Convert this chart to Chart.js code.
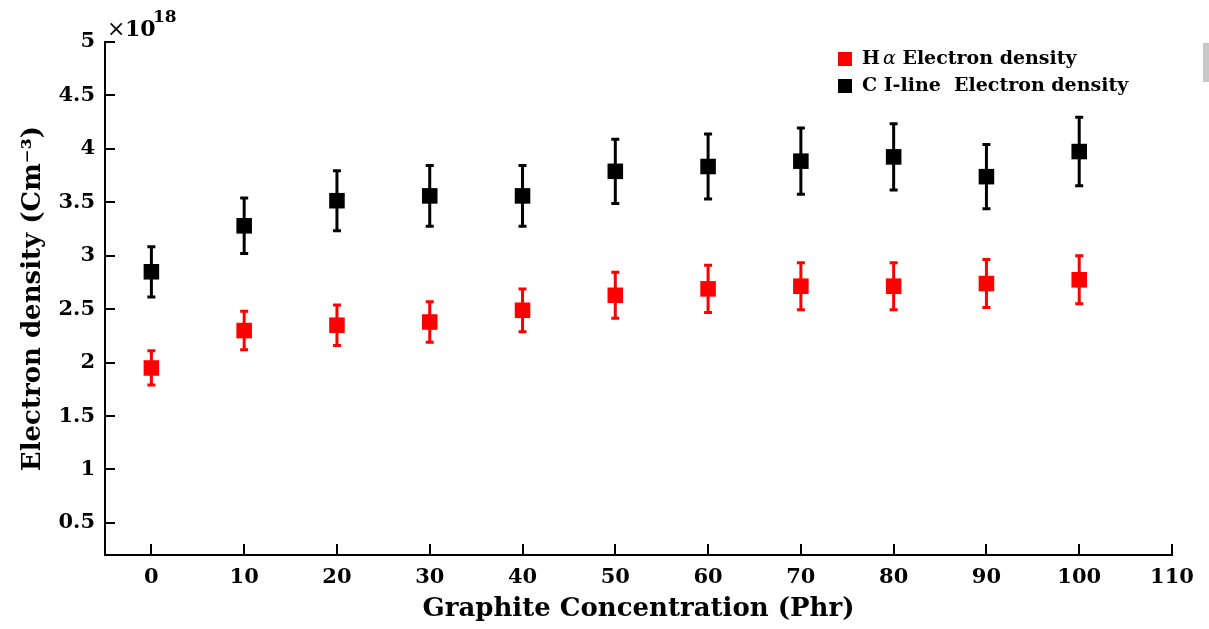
<!DOCTYPE html>
<html>
<head>
<meta charset="utf-8">
<script src="https://cdn.jsdelivr.net/npm/chart.js@4"></script>
<style>
  html, body { margin: 0; padding: 0; background: #fff; }
  #wrap { position: relative; width: 1209px; height: 629px; }
  #bar { position: absolute; left: 1203px; top: 43px; width: 6px; height: 39px; background: #c8c8c8; }
</style>
</head>
<body>
<div id="wrap">
  <canvas id="chart" width="1209" height="629"></canvas>
  <div id="bar"></div>
</div>
<script>
const concentration = [0, 10, 20, 30, 40, 50, 60, 70, 80, 90, 100];
const hAlpha = [1.95, 2.30, 2.35, 2.38, 2.49, 2.63, 2.69, 2.715, 2.715, 2.74, 2.775];
const hAlphaErr = [0.16, 0.18, 0.19, 0.19, 0.20, 0.215, 0.22, 0.22, 0.22, 0.225, 0.225];
const cLine = [2.85, 3.28, 3.515, 3.56, 3.56, 3.79, 3.835, 3.885, 3.925, 3.74, 3.975];
const cLineErr = [0.235, 0.26, 0.28, 0.285, 0.285, 0.30, 0.305, 0.31, 0.31, 0.30, 0.32];
const xTicks = [0, 10, 20, 30, 40, 50, 60, 70, 80, 90, 100, 110];
const yTicks = [0.5, 1, 1.5, 2, 2.5, 3, 3.5, 4, 4.5, 5];

const FONT = "'DejaVu Serif', serif";

const toPoints = (vals) => concentration.map((c, i) => ({ x: c, y: vals[i] }));

// error bars, inward tick marks, exponent and legend
const extras = {
  id: 'extras',
  beforeDatasetsDraw(chart) {
    const { ctx, scales: { x, y } } = chart;
    ctx.save();
    ctx.lineWidth = 3;
    chart.data.datasets.forEach((ds) => {
      ctx.strokeStyle = ds.backgroundColor;
      ds.data.forEach((p, i) => {
        const px = x.getPixelForValue(p.x);
        const top = y.getPixelForValue(p.y + ds.err[i]);
        const bot = y.getPixelForValue(p.y - ds.err[i]);
        ctx.beginPath();
        ctx.moveTo(px, top);
        ctx.lineTo(px, bot);
        ctx.moveTo(px - 4, top);
        ctx.lineTo(px + 4, top);
        ctx.moveTo(px - 4, bot);
        ctx.lineTo(px + 4, bot);
        ctx.stroke();
      });
    });
    ctx.restore();
  },
  afterDraw(chart) {
    const { ctx, chartArea: area, scales: { x, y } } = chart;
    ctx.save();
    ctx.strokeStyle = '#000';
    ctx.lineWidth = 2;
    ctx.beginPath();
    yTicks.forEach((v) => {
      const py = Math.round(y.getPixelForValue(v));
      ctx.moveTo(area.left, py);
      ctx.lineTo(area.left + 10, py);
    });
    xTicks.forEach((v) => {
      const px = Math.round(x.getPixelForValue(v));
      ctx.moveTo(px, area.bottom);
      ctx.lineTo(px, area.bottom - 11);
    });
    ctx.stroke();

    // x10^18
    ctx.fillStyle = '#000';
    ctx.textBaseline = 'alphabetic';
    ctx.font = "22px " + FONT;
    ctx.fillText('\u00d7', area.left + 2, 36);
    ctx.font = "bold 22px " + FONT;
    ctx.fillText('10', area.left + 20, 36);
    ctx.font = "bold 17px " + FONT;
    ctx.fillText('18', area.left + 48, 22);

    // legend
    const items = [
      { color: '#ff0000', label: ['H', '\u03b1', ' Electron density'] },
      { color: '#000000', label: ['C I-line  Electron density'] }
    ];
    items.forEach((it, i) => {
      const cy = 59 + i * 27;
      ctx.fillStyle = it.color;
      ctx.fillRect(838, cy - 7, 14, 14);
      ctx.fillStyle = '#000';
      ctx.textBaseline = 'middle';
      let tx = 862;
      it.label.forEach((part) => {
        ctx.font = (part === '\u03b1' ? "italic 19px " : "bold 19px ") + FONT;
        ctx.fillText(part, tx, cy);
        tx += ctx.measureText(part).width + (part === 'H' ? 3 : 0);
      });
    });
    ctx.restore();
  }
};

new Chart(document.getElementById('chart'), {
  type: 'scatter',
  data: {
    datasets: [{
      label: 'H\u03b1 Electron density',
      data: toPoints(hAlpha),
      err: hAlphaErr,
      backgroundColor: '#ff0000',
      borderColor: '#ff0000',
      borderWidth: 0,
      pointStyle: 'rect',
      pointRadius: 11,
      pointHoverRadius: 11
    }, {
      label: 'C I-line  Electron density',
      data: toPoints(cLine),
      err: cLineErr,
      backgroundColor: '#000000',
      borderColor: '#000000',
      borderWidth: 0,
      pointStyle: 'rect',
      pointRadius: 11,
      pointHoverRadius: 11
    }]
  },
  options: {
    responsive: false,
    animation: false,
    layout: { padding: { top: 42, right: 37, left: 0, bottom: 0 } },
    plugins: {
      legend: { display: false },
      tooltip: { enabled: false }
    },
    scales: {
      x: {
        type: 'linear',
        min: -5,
        max: 110,
        afterBuildTicks: (scale) => { scale.ticks = xTicks.map((v) => ({ value: v })); },
        afterFit: (scale) => { scale.height = 74; },
        grid: { display: false, drawTicks: false },
        border: { display: true, color: '#000', width: 2 },
        ticks: {
          color: '#000',
          padding: 10,
          maxRotation: 0,
          font: { family: FONT, weight: 'bold', size: 21 }
        },
        title: {
          display: true,
          text: 'Graphite Concentration (Phr)',
          color: '#000',
          padding: { top: 0, bottom: 4 },
          font: { family: FONT, weight: 'bold', size: 26 }
        }
      },
      y: {
        type: 'linear',
        min: 0.2,
        max: 5,
        afterBuildTicks: (scale) => { scale.ticks = yTicks.map((v) => ({ value: v })); },
        afterFit: (scale) => { scale.width = 105; },
        grid: { display: false, drawTicks: false },
        border: { display: true, color: '#000', width: 2 },
        ticks: {
          color: '#000',
          padding: 10,
          font: { family: FONT, weight: 'bold', size: 21 },
          callback: (v) => String(v)
        },
        title: {
          display: true,
          text: 'Electron density (Cm\u207b\u00b3)',
          color: '#000',
          padding: { top: 18, bottom: 0 },
          font: { family: FONT, weight: 'bold', size: 26 }
        }
      }
    }
  },
  plugins: [extras]
});
</script>
</body>
</html>
